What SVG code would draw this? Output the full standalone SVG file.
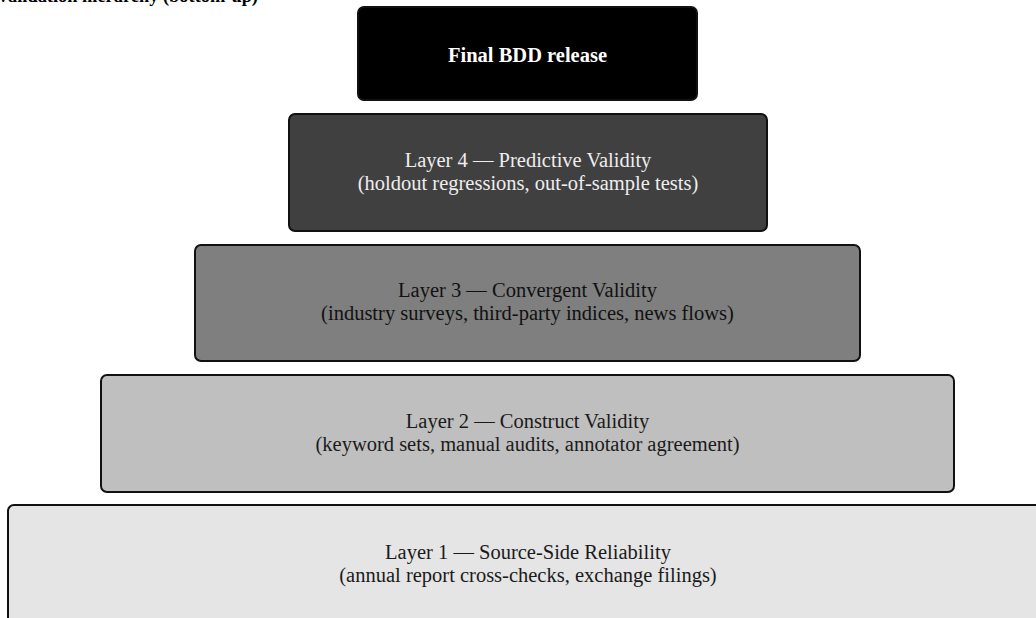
<svg xmlns="http://www.w3.org/2000/svg" width="1036" height="618" viewBox="0 0 1036 618">
<style>
.box{stroke:#111;stroke-width:2}
.t{font-family:"Liberation Serif","Times New Roman",serif;font-size:20.5px;text-anchor:middle}
.title{font-family:"Liberation Serif","Times New Roman",serif;font-size:18.4px;font-weight:bold;fill:#000}
</style>
<rect width="1036" height="618" fill="#fff"/>
<text class="title" x="258" y="2" text-anchor="end">Validation hierarchy (bottom-up)</text>
<g id="layer1">
<rect class="box" x="8" y="505" width="1040" height="118" rx="6" fill="#e5e5e5"/>
<text class="t" x="528" y="559" fill="#1a1a1a">Layer 1 — Source-Side Reliability</text>
<text class="t" x="528" y="582" fill="#1a1a1a">(annual report cross-checks, exchange filings)</text>
</g>
<g id="layer2">
<rect class="box" x="101" y="375" width="853" height="117" rx="6" fill="#bfbfbf"/>
<text class="t" x="527.5" y="428" fill="#1a1a1a">Layer 2 — Construct Validity</text>
<text class="t" x="527.5" y="451" fill="#1a1a1a">(keyword sets, manual audits, annotator agreement)</text>
</g>
<g id="layer3">
<rect class="box" x="195" y="245" width="665" height="116" rx="6" fill="#7f7f7f"/>
<text class="t" x="527.5" y="297" fill="#111">Layer 3 — Convergent Validity</text>
<text class="t" x="527.5" y="320" fill="#111">(industry surveys, third-party indices, news flows)</text>
</g>
<g id="layer4">
<rect class="box" x="289" y="114" width="478" height="117" rx="6" fill="#404040"/>
<text class="t" x="528" y="167" fill="#eeeeee">Layer 4 — Predictive Validity</text>
<text class="t" x="528" y="190" fill="#eeeeee">(holdout regressions, out-of-sample tests)</text>
</g>
<g id="final">
<rect class="box" x="358" y="7" width="339" height="93" rx="6" fill="#000"/>
<text class="t" x="527.5" y="62" fill="#fff" font-weight="bold" font-size="18.4">Final BDD release</text>
</g>
<g id="connectors"></g>
</svg>
